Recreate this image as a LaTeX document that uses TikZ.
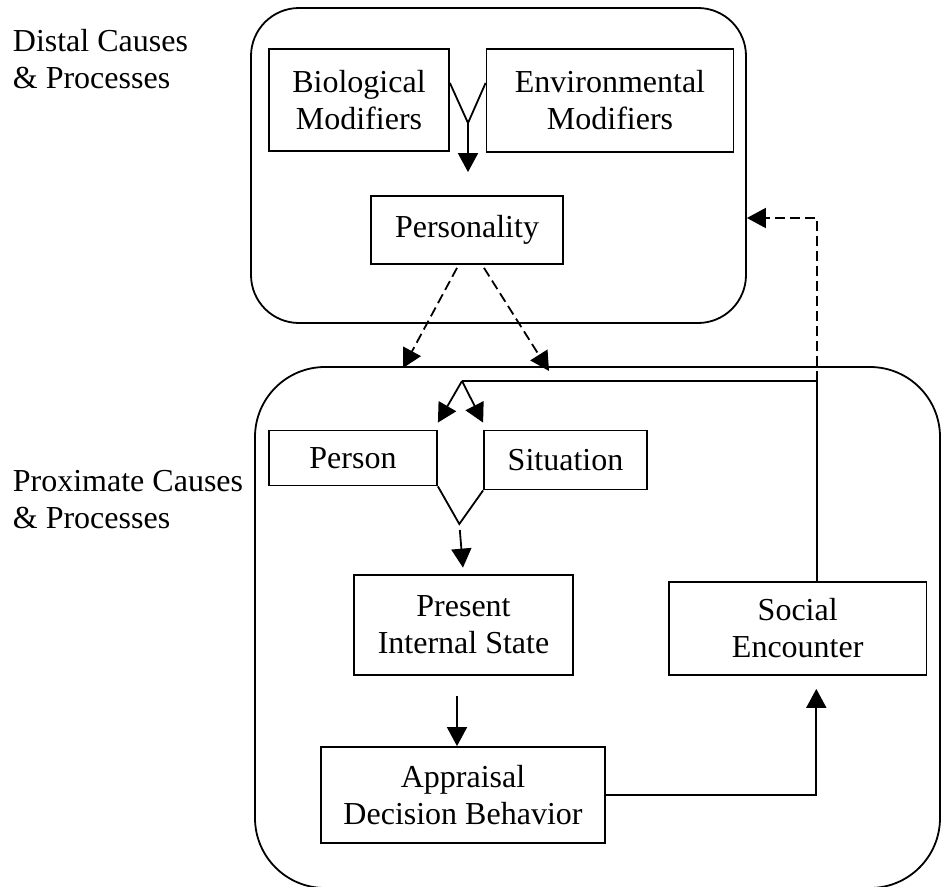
\documentclass[tikz,border=0pt]{standalone}
\usepackage{fontspec}
\setmainfont{Liberation Serif}
\usetikzlibrary{arrows.meta}

\begin{document}
\begin{tikzpicture}[x=1pt,y=-1pt,
	every node/.style={font=\fontsize{32}{37}\selectfont},
	box/.style={draw,line width=1.8pt,inner sep=0pt,align=center},
	region/.style={draw,line width=1.8pt,inner sep=0pt},
	link/.style={line width=1.8pt},
	arr/.style={link,-{Triangle[length=19pt,width=20pt]}},
	dasharr/.style={arr,dash pattern=on 10pt off 5pt}]
	
	\useasboundingbox (0,0) rectangle (941,886);
	
	% the two levels
	\node[region,rounded corners=48pt,minimum width=495pt,minimum height=315pt] (distal) at (498.5,165.5) {};
	\node[region,rounded corners=70pt,minimum width=685pt,minimum height=521pt] (proximate) at (597.5,627.5) {};
	\node[anchor=north west,inner sep=0pt,align=left] (distallbl) at (12.7,29) {Distal Causes\\\& Processes};
	\node[anchor=north west,inner sep=0pt,align=left] (proxlbl) at (12.7,470) {Proximate Causes\\\& Processes};
	
	\node[box,minimum width=180pt,minimum height=102pt] (bio) at (359,100) {Biological\\Modifiers};
	\node[box,minimum width=247pt,minimum height=103pt] (env) at (610,100.5) {Environmental\\Modifiers};
	\node[box,minimum width=192pt,minimum height=68pt] (pers) at (467,230) {Personality};
	\node[box,minimum width=168pt,minimum height=55pt] (person) at (353,458) {Person};
	\node[box,minimum width=163pt,minimum height=59pt] (situation) at (565.5,460) {Situation};
	\node[box,minimum width=219pt,minimum height=100pt] (state) at (463.5,625) {Present\\Internal State};
	\node[box,minimum width=284pt,minimum height=96pt] (appraisal) at (463,795) {Appraisal\\Decision Behavior};
	\node[box,minimum width=257.5pt,minimum height=93pt] (social) at (797.7,628.5) {Social\\Encounter};
	
	\coordinate (merge) at (468,123);
	\coordinate (vtip) at (459.3,524);
	\coordinate (split) at (462,381);
	\coordinate (turn) at (816.7,381);
	\coordinate (pl) at (403,368);
	\coordinate (pr) at (549,371);
	
	\draw[link] ([yshift=17pt]bio.east) -- (merge) -- ([yshift=17.5pt]env.west);
	\draw[arr,shorten >=23pt] (merge) -- (merge |- pers.north);
	\draw[dasharr] ([xshift=-10pt,yshift=-3pt]pers.south) -- (pl);
	\draw[dasharr] ([xshift=17pt,yshift=-3pt]pers.south) -- (pr);
	
	% feedback loop
	\draw[link] ([xshift=19pt]social.north) -- (turn) -- (split);
	\draw[dasharr] (turn) |- ([yshift=-52.5pt]distal.east);
	\draw[arr] (split) -- ([yshift=7pt]person.north east);
	\draw[arr] (split) -- ([yshift=7pt]situation.north west);
	
	\draw[link] (person.south east) -- (vtip) -- (situation.south west);
	\draw[arr,shorten <=6pt,shorten >=6.5pt] (vtip) -- (state.north);
	\draw[arr,shorten <=20pt] ([xshift=-6.5pt]state.south) -- ([xshift=-6pt]appraisal.north);
	\draw[arr,shorten >=13pt] (appraisal.east) -| ([xshift=18.6pt]social.south);
\end{tikzpicture}
\end{document}
